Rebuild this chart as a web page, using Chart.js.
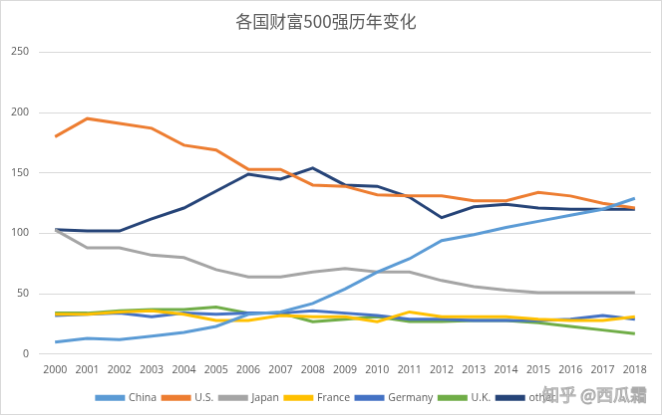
<!DOCTYPE html>
<html>
<head>
<meta charset="utf-8">
<script src="https://cdn.jsdelivr.net/npm/chart.js@4"></script>
<style>
  body { margin: 0; background: #fff; }
  canvas { display: block; border: 1px solid #d9d9d9; }
</style>
</head>
<body>
<canvas id="wealthChart" width="662" height="415"></canvas>
<script>
var years = ['2000','2001','2002','2003','2004','2005','2006','2007','2008','2009',
             '2010','2011','2012','2013','2014','2015','2016','2017','2018'];

var china   = [10, 13, 12, 15, 18, 23, 33, 35, 42, 54, 68, 79, 94, 99, 105, 110, 115, 120, 129];
var us      = [180, 195, 191, 187, 173, 169, 153, 153, 140, 139, 132, 131, 131, 127, 127, 134, 131, 125, 121];
var japan   = [103, 88, 88, 82, 80, 70, 64, 64, 68, 71, 68, 68, 61, 56, 53, 51, 51, 51, 51];
var france  = [33, 33, 35, 36, 33, 28, 28, 32, 31, 31, 27, 35, 31, 31, 31, 29, 28, 28, 31];
var germany = [32, 33, 34, 31, 34, 33, 34, 34, 36, 34, 32, 29, 29, 28, 28, 28, 29, 32, 29];
var uk      = [34, 34, 36, 37, 37, 39, 34, 34, 27, 29, 31, 27, 27, 28, 28, 26, 23, 20, 17];
var other   = [103, 102, 102, 112, 121, 135, 149, 145, 154, 140, 139, 130, 113, 122, 124, 121, 120, 120, 120];

var seriesNames  = ['China', 'U.S.', 'Japan', 'France', 'Germany', 'U.K.', 'other'];
var seriesData   = [china, us, japan, france, germany, uk, other];
var seriesColors = ['#5B9BD5', '#ED7D31', '#A5A5A5', '#FFC000', '#4472C4', '#70AD47', '#264478'];

var watermark = {
    id: 'watermark',
    afterDraw: function(chart) {
        var c = chart.ctx;
        c.save();
        c.font = '17px "Noto Sans CJK SC"';
        c.textAlign = 'right';
        c.textBaseline = 'middle';
        c.lineWidth = 1;
        c.strokeStyle = 'rgba(150,150,150,0.8)';
        c.fillStyle = 'rgba(245,245,245,0.85)';
        c.fillText('知乎 @西瓜霜', 648, 396);
        c.strokeText('知乎 @西瓜霜', 648, 396);
        c.restore();
    }
};

var ctx = document.getElementById('wealthChart').getContext('2d');
var datasets = seriesNames.map(function(name, i) {
    return {
        label: name,
        data: seriesData[i],
        borderColor: seriesColors[i],
        backgroundColor: seriesColors[i],
        borderWidth: 3,
        pointRadius: 0,
        tension: 0,
        fill: false
    };
});

new Chart(ctx, {
    type: 'line',
    data: { labels: years, datasets: datasets },
    options: {
        responsive: false,
        animation: false,
        layout: { padding: { left: 0, right: 10, top: 4, bottom: 1 } },
        plugins: {
            title: {
                display: true,
                text: '各国财富500强历年变化',
                color: '#595959',
                font: { family: '"Noto Sans CJK SC"', size: 17, weight: 'normal' },
                padding: { top: 6, bottom: 21 }
            },
            legend: {
                position: 'bottom',
                labels: {
                    boxWidth: 27,
                    boxHeight: 3,
                    padding: 6,
                    color: '#595959',
                    font: { family: 'Open Sans', size: 10.5 }
                }
            },
            tooltip: { enabled: false }
        },
        scales: {
            x: {
                offset: true,
                grid: { display: false, drawTicks: false },
                border: { color: '#d9d9d9' },
                ticks: { color: '#595959', font: { family: 'Open Sans', size: 10.5 }, padding: 10, maxRotation: 0 }
            },
            y: {
                min: 0,
                max: 250,
                ticks: { stepSize: 50, color: '#595959', font: { family: 'Open Sans', size: 10.5 }, padding: 10 },
                grid: { color: '#d9d9d9', drawTicks: false },
                border: { display: false }
            }
        }
    },
    plugins: [watermark]
});
</script>
</body>
</html>
